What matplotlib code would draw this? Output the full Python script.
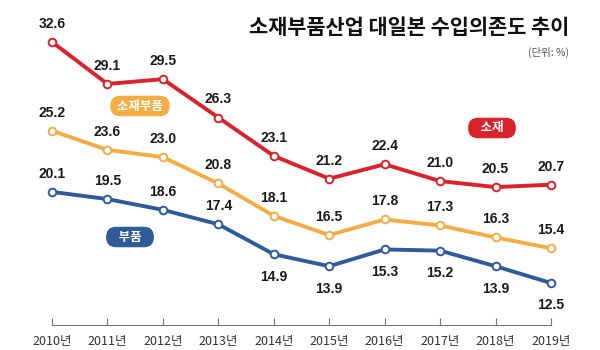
import matplotlib
matplotlib.use('Agg')
import matplotlib.pyplot as plt

plt.rcParams['font.family'] = ['Noto Sans CJK KR', 'DejaVu Sans']

years = ['2010년', '2011년', '2012년', '2013년', '2014년',
         '2015년', '2016년', '2017년', '2018년', '2019년']
sojae = [32.6, 29.1, 29.5, 26.3, 23.1, 21.2, 22.4, 21.0, 20.5, 20.7]
sojae_bupum = [25.2, 23.6, 23.0, 20.8, 18.1, 16.5, 17.8, 17.3, 16.3, 15.4]
bupum = [20.1, 19.5, 18.6, 17.4, 14.9, 13.9, 15.3, 15.2, 13.9, 12.5]
# which blue labels go under the point
bupum_below = [False, False, False, False, True, True, True, True, True, True]

RED = '#d9222b'
ORANGE = '#f3ad44'
BLUE = '#2f5b98'

fig = plt.figure(figsize=(6, 3.5), dpi=100)
ax = fig.add_axes([0, 25 / 350, 1, 325 / 350])
x = list(range(len(years)))

def draw(vals, color, below=None):
    ax.plot(x, vals, color=color, lw=2.8, marker='o', ms=5.5,
            mfc='white', mec=color, mew=1.4, zorder=3, solid_capstyle='round')
    for i, v in enumerate(vals):
        if below is not None and below[i]:
            off, va = -11, 'top'
        else:
            off, va = 8, 'bottom'
        ax.annotate('%.1f' % v, (i, v), xytext=(0, off), textcoords='offset points',
                    ha='center', va=va, fontsize=10, fontweight='bold',
                    family='Liberation Sans', color='#1a1a1a')

draw(sojae, RED)
draw(sojae_bupum, ORANGE)
draw(bupum, BLUE, bupum_below)

ax.set_xlim(-52 / 55.44, 9 + 49 / 55.44)
ax.set_ylim(9.0, 36.1)
ax.set_yticks([])
ax.set_xticks(x)
ax.set_xticklabels(years, fontsize=9, color='#333333')
ax.tick_params(axis='x', direction='in', length=5, width=0.8, color='#777777', pad=7)
for s in ['top', 'right', 'left']:
    ax.spines[s].set_visible(False)
ax.spines['bottom'].set_bounds(0, 9)
ax.spines['bottom'].set_color('#777777')
ax.spines['bottom'].set_linewidth(0.8)

# title and unit
fig.text(569 / 600, 1 - 28 / 350, '소재부품산업 대일본 수입의존도 추이', ha='right', va='center',
         fontsize=15, fontweight='bold', color='#111111')
fig.text(569 / 600, 1 - 52 / 350, '(단위: %)', ha='right', va='center',
         fontsize=7.5, color='#555555')

# series badges
def badge(px, py, txt, color):
    fig.text(px / 600, 1 - py / 350, txt, ha='center', va='center', fontsize=9,
             fontweight='bold', color='white',
             bbox=dict(boxstyle='round,pad=0.3,rounding_size=0.8', fc=color, ec='none'))

badge(140, 106, ' 소재부품 ', ORANGE)
badge(492, 128, '   소재   ', RED)
badge(130, 237, '   부품   ', BLUE)

fig.savefig('out.png', dpi=100)
